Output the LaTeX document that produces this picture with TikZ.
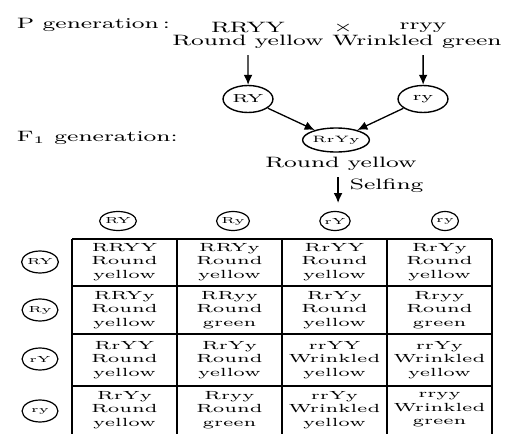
\documentclass[tikz,border=0pt]{standalone}
\usepackage{tikz}
\usetikzlibrary{arrows.meta}
\usetikzlibrary{shapes.geometric}
\usetikzlibrary{positioning}
\tikzset{
    big/.style={
           font=\fontsize{7.5}{8}\selectfont,
           inner sep=1pt,
           },
}
\tikzset{
    parent/.style={
           ellipse,
           draw, line width=0.7pt,
           inner sep=0pt,
           minimum width=15.6pt, minimum height=13.5pt,
           font=\fontsize{5.8}{6}\selectfont,
           },
}
\tikzset{
    hybrid/.style={
           ellipse,
           draw, line width=0.7pt,
           inner sep=0pt,
           minimum width=15pt, minimum height=12pt,
           font=\fontsize{4.6}{5}\selectfont,
           },
}
\tikzset{
    gamete/.style={
           ellipse,
           draw, line width=0.6pt,
           inner sep=0pt,
           minimum width=8.4pt, minimum height=9.5pt,
           font=\fontsize{4.4}{5}\selectfont,
           },
}
\tikzset{
    rowgamete/.style={
           gamete,
           minimum width=11.2pt, minimum height=11pt,
           },
}
\tikzset{
    cell/.style={
           align=center,
           inner sep=0pt,
           font=\fontsize{5.9}{6.75}\selectfont,
           },
}
\tikzset{arr/.style={-{Latex[length=5pt,width=4.4pt]}, line width=0.65pt}}
\tikzset{grid/.style={line width=0.85pt}}

\begin{document}
\begin{tikzpicture}[x=0.3125pt, y=-0.5pt, xscale=1.6, transform shape]
\useasboundingbox (0,0) rectangle (505,434);

\node[big,anchor=west](pgen) at (13,25){P generation\,:};
\node[big,anchor=west](fgen) at (13,138){F$_1$ generation:};

\node[big](parA) at (248,28){RRYY};
\node[big](parAtxt) at (248,42){Round yellow};
\node[big](cross) at (343,28){$\times$};
\node[big](parB) at (423,28){rryy};
\node[big](parBtxt) at (417,42){Wrinkled green};

\node[parent](gamA) at (248,99){RY};
\node[parent](gamB) at (423,99){ry};
\node[hybrid](f1) at (336,140){RrYy};
\node[big](f1txt) at (341,164){Round yellow};
\coordinate (selfend) at (338,203);
\node[big,anchor=west](self) at (346,186){Selfing};

\draw[arr,shorten <=2pt] (parAtxt.south) -- (gamA);
\draw[arr,shorten <=2pt] (parBtxt.south -| gamB) -- (gamB);
\draw[arr] (gamA) -- (f1);
\draw[arr] (gamB) -- (f1);
\draw[arr,shorten <=2pt] (f1txt.south -| selfend) -- (selfend);

\node[gamete](mRY) at (118,221){RY};
\node[gamete](mRy) at (233,221){Ry};
\node[gamete](mrY) at (335,221){rY};
\node[gamete](mry) at (445,221){ry};

\node[rowgamete](fRY) at (40,262){RY};
\node[rowgamete](fRy) at (40,310){Ry};
\node[rowgamete](frY) at (40,359){rY};
\node[rowgamete](fry) at (40,411){ry};

\draw[grid] (72,239) -- (492,239);
\draw[grid] (72,286) -- (492,286);
\draw[grid] (72,334) -- (492,334);
\draw[grid] (72,386) -- (492,386);
\draw[grid] (72,239) -- (72,434);
\draw[grid] (177,239) -- (177,434);
\draw[grid] (282,239) -- (282,434);
\draw[grid] (387,239) -- (387,434);
\draw[grid] (492,239) -- (492,434);

\node[cell](c11) at (124.5,262){RRYY\\Round\\yellow};
\node[cell](c12) at (229.5,262){RRYy\\Round\\yellow};
\node[cell](c13) at (334.5,262){RrYY\\Round\\yellow};
\node[cell](c14) at (439.5,262){RrYy\\Round\\yellow};

\node[cell](c21) at (124.5,310){RRYy\\Round\\yellow};
\node[cell](c22) at (229.5,310){RRyy\\Round\\green};
\node[cell](c23) at (334.5,310){RrYy\\Round\\yellow};
\node[cell](c24) at (439.5,310){Rryy\\Round\\green};

\node[cell](c31) at (124.5,360){RrYY\\Round\\yellow};
\node[cell](c32) at (229.5,360){RrYy\\Round\\yellow};
\node[cell](c33) at (334.5,360){rrYY\\Wrinkled\\yellow};
\node[cell](c34) at (439.5,360){rrYy\\Wrinkled\\yellow};

\node[cell](c41) at (124.5,410){RrYy\\Round\\yellow};
\node[cell](c42) at (229.5,410){Rryy\\Round\\green};
\node[cell](c43) at (334.5,410){rrYy\\Wrinkled\\yellow};
\node[cell](c44) at (439.5,410){rryy\\Wrinkled\\green};
\end{tikzpicture}
\end{document}
